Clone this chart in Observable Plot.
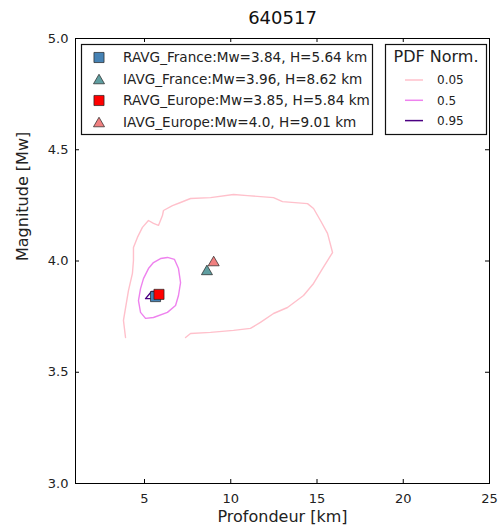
<!DOCTYPE html>
<html><head><meta charset="utf-8">
<script src="https://cdn.jsdelivr.net/npm/d3@7"></script>
<script src="https://cdn.jsdelivr.net/npm/@observablehq/plot@0.6"></script>
<style>body{margin:0;background:#fff;} svg{font-family:"DejaVu Sans",sans-serif;}</style>
</head><body><div id="chart"></div>
<script>
const title = "640517";
const xLabel = "Profondeur [km]";
const yLabel = "Magnitude [Mw]";
const xTicks = [5, 10, 15, 20, 25];
const yTicks = [3.0, 3.5, 4.0, 4.5, 5.0];
const pdfTitle = "PDF Norm.";
const pdfLevels = ["0.05", "0.5", "0.95"];
const pdfColors = ["pink", "violet", "indigo"];
// contours [depth km, Mw]
const contour005 = [[3.90,3.656],[3.78,3.733],[4.07,3.867],[4.30,3.944],[4.36,4.002],[4.36,4.061],[4.59,4.106],[4.88,4.151],[5.23,4.182],[5.52,4.169],[5.81,4.160],[6.04,4.204],[6.10,4.227],[6.62,4.249],[7.09,4.263],[7.67,4.281],[8.83,4.285],[10.16,4.299],[10.97,4.294],[12.48,4.285],[13.00,4.267],[14.45,4.258],[14.80,4.236],[15.20,4.182],[15.61,4.124],[15.90,4.038],[15.61,4.002],[15.32,3.966],[14.80,3.899],[14.22,3.845],[13.29,3.791],[12.48,3.764],[11.72,3.724],[11.14,3.697],[10.16,3.688],[8.83,3.679],[7.67,3.674],[7.38,3.656]];
const contour05 = [[6.33,4.016],[6.74,4.007],[6.97,3.966],[7.09,3.903],[6.97,3.845],[6.80,3.800],[6.33,3.769],[5.52,3.746],[5.06,3.742],[4.77,3.769],[4.65,3.822],[4.77,3.876],[4.94,3.921],[5.23,3.966],[5.52,3.993],[5.93,4.011],[6.33,4.016]];
const contour095 = [[5.06,3.831],[5.41,3.863],[5.60,3.863],[5.60,3.831],[5.06,3.831]];
const markerNames = ["RAVG_France", "IAVG_France", "RAVG_Europe", "IAVG_Europe"];
const markerMw = [3.84, 3.96, 3.85, 4.0];
const markerH = [5.64, 8.62, 5.84, 9.01];
const markerSymbols = ["square", "triangle", "square", "triangle"];
const markerColors = ["#4682b4", "#5f9ea0", "#ff0000", "#f08080"];

const pyNum = v => Number.isInteger(v) ? v.toFixed(1) : String(v);
const markers = markerNames.map((n, i) => ({name: n, mw: markerMw[i], h: markerH[i], symbol: markerSymbols[i], color: markerColors[i],
  label: `${n}:Mw=${pyNum(markerMw[i])}, H=${pyNum(markerH[i])} km`}));
const symR = s => s === "square" ? 5.7 : 4.1;
const symDy = s => s === "square" ? 0 : 1.6;
const toPts = a => a.map(([x, y]) => ({x, y}));
const contours = [contour005, contour05, contour095];

const W = 504, H = 530, mL = 75, mR = 15, mT = 38, mB = 47;
const fw = W - mL - mR, fh = H - mT - mB, tk = 4;
const svg = Plot.plot({
  width: W, height: H, marginLeft: mL, marginRight: mR, marginTop: mT, marginBottom: mB,
  style: {fontFamily: "DejaVu Sans, sans-serif", fontSize: "13px", color: "#222", background: "#fff"},
  x: {domain: [1, 25]},
  y: {domain: [3, 5]},
  marks: [
    ...contours.map((c, i) => Plot.line(toPts(c), {x: "x", y: "y", stroke: pdfColors[i], strokeWidth: 1.4, curve: "linear"})),
    ...markers.map(m => Plot.dot([m], {x: "h", y: "mw", symbol: m.symbol, r: symR(m.symbol), dy: symDy(m.symbol), fill: m.color, stroke: "#222", strokeWidth: 0.7})),
    Plot.tickX(xTicks, {x: d => d, insetTop: fh - tk, stroke: "black"}),
    Plot.tickX(xTicks, {x: d => d, insetBottom: fh - tk, stroke: "black"}),
    Plot.tickY(yTicks, {y: d => d, insetRight: fw - tk, stroke: "black"}),
    Plot.tickY(yTicks, {y: d => d, insetLeft: fw - tk, stroke: "black"}),
    Plot.frame({stroke: "black", strokeWidth: 1}),
    Plot.axisX({ticks: xTicks, tickSize: 0, tickPadding: 10, label: null, tickFormat: d => String(d)}),
    Plot.axisY({ticks: yTicks, tickSize: 0, tickPadding: 7, label: null, tickFormat: d3.format(".1f")}),
    Plot.text([title], {frameAnchor: "top", dy: -20, fontSize: 18, fill: "#111", lineAnchor: "middle"}),
    Plot.text([xLabel], {frameAnchor: "bottom", dy: 33, fontSize: 16, fill: "#222", lineAnchor: "middle"}),
    Plot.text([yLabel], {frameAnchor: "left", dx: -53, rotate: -90, fontSize: 16, fill: "#222", lineAnchor: "middle"})
  ]
});
document.getElementById("chart").appendChild(svg);

// Legends
const sel = d3.select(svg);
const g1 = sel.append("g").attr("text-anchor", "start");
g1.append("rect").attr("x", 81.5).attr("y", 44.5).attr("width", 291).attr("height", 90)
  .attr("fill", "white").attr("stroke", "#111").attr("stroke-width", 1.2);
markers.forEach((m, i) => {
  const cy = 57.5 + i * 21.5;
  const sym = m.symbol === "square" ? d3.symbolSquare : d3.symbolTriangle;
  const r = symR(m.symbol);
  g1.append("path").attr("d", d3.symbol(sym, r * r * Math.PI)())
    .attr("transform", `translate(99,${cy + symDy(m.symbol)})`)
    .attr("fill", m.color).attr("stroke", "#222").attr("stroke-width", 0.7);
  g1.append("text").attr("x", 123).attr("y", cy).attr("dy", "0.35em").attr("text-anchor", "start")
    .attr("font-size", 13.6).attr("fill", "#222").text(m.label);
});
const g2 = sel.append("g");
g2.append("rect").attr("x", 385.5).attr("y", 44.5).attr("width", 101).attr("height", 90)
  .attr("fill", "white").attr("stroke", "#111").attr("stroke-width", 1.2);
g2.append("text").attr("x", 436).attr("y", 56).attr("dy", "0.35em").attr("text-anchor", "middle")
  .attr("font-size", 16).attr("fill", "#222").text(pdfTitle);
pdfLevels.forEach((lv, i) => {
  const cy = 80 + i * 20.3;
  g2.append("line").attr("x1", 405).attr("x2", 423).attr("y1", cy).attr("y2", cy)
    .attr("stroke", pdfColors[i]).attr("stroke-width", 1.5);
  g2.append("text").attr("x", 437).attr("y", cy).attr("dy", "0.35em").attr("text-anchor", "start")
    .attr("font-size", 12).attr("fill", "#222").text(lv);
});
</script></body></html>
